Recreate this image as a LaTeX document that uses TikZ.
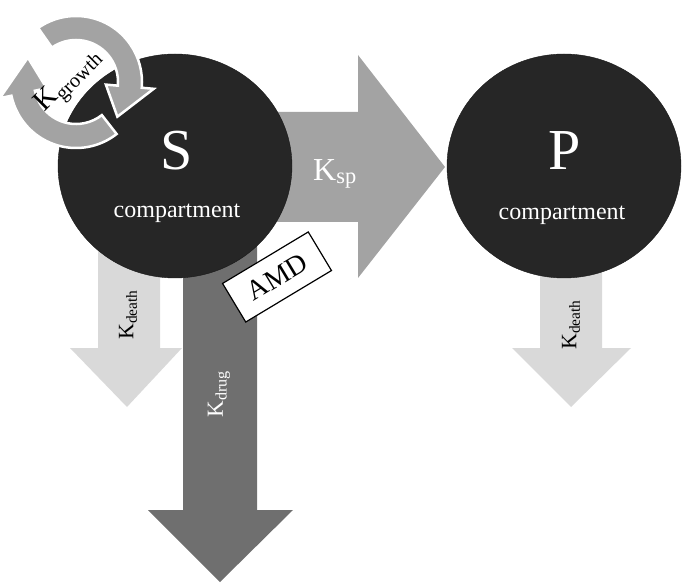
\documentclass[tikz,border=0pt]{standalone}
\usepackage{fontspec}
\setmainfont{Liberation Serif}
\usetikzlibrary{positioning}
\usetikzlibrary{shapes.geometric}

\definecolor{compfill}{HTML}{262626}
\definecolor{spgray}{HTML}{A3A3A3}
\definecolor{deathgray}{HTML}{D9D9D9}
\definecolor{druggray}{HTML}{6F6F6F}

\begin{document}
\begin{tikzpicture}[x=1pt,y=1pt,
  comp/.style={ellipse, fill=compfill, draw=black!90, minimum width=234pt, minimum height=224pt, inner sep=0pt},
  letter/.style={text=white, inner sep=0pt, font=\fontsize{58}{60}\selectfont},
  comptext/.style={text=white, inner sep=0pt, font=\fontsize{24}{26}\selectfont},
  rate/.style={inner sep=0pt},
  growth/.style={fill=spgray, draw=white, line width=2.5pt, line join=miter},
  amdbox/.style={draw=black, fill=white, line width=1.2pt, rotate=31, minimum width=100pt, minimum height=45pt, inner sep=0pt, font=\fontsize{28}{30}\selectfont}]
  \useasboundingbox (0,0) rectangle (685,587);

  % flows
  \fill[spgray] (260,365) -- (358,365) -- (358,309) -- (445,420) -- (358,532) -- (358,475) -- (260,475) -- cycle;
  \fill[deathgray] (98,360) -- (98,239) -- (70,239) -- (127,180) -- (182,239) -- (160,239) -- (160,360) -- cycle;
  \fill[deathgray] (540,360) -- (540,239) -- (512,239) -- (571,180) -- (631,239) -- (602,239) -- (602,360) -- cycle;
  \fill[druggray] (183,390) -- (183,77) -- (148,77) -- (220,5) -- (293,77) -- (257,77) -- (257,390) -- cycle;

  % compartments
  \node[comp] (S) at (175,421) {};
  \node[comp] (P) at (564,421) {};
  \node[letter] (Sname) at (177,436) {S};
  \node[comptext] (Stext) at (177,374) {compartment};
  \node[letter] (Pname) at (565,436) {P};
  \node[comptext] (Ptext) at (562,372) {compartment};

  % growth cycle
  \begin{scope}[shift={(76,505)}]
    \filldraw[growth] (125:66) arc[start angle=125, end angle=-5, radius=66] -- (-5:78) -- (-40:54) -- (-5:30) -- (-5:42) arc[start angle=-5, end angle=125, radius=42] -- cycle;
    \filldraw[growth] (-52:66) arc[start angle=-52, end angle=-168, radius=66] -- (-168:78) -- (-207:54) -- (-168:30) -- (-168:42) arc[start angle=-168, end angle=-52, radius=42] -- cycle;
  \end{scope}
  \node[rate, rotate=45, font=\fontsize{29}{31}\selectfont] (kgrowth) at (69,506) {$\mathrm{K}_{\mathrm{growth}}$};

  % rate labels
  \node[rate, text=white, font=\fontsize{32}{34}\selectfont] (ksp) at (335,413) {$\mathrm{K}_{\mathrm{sp}}$};
  \node[rate, rotate=90, font=\fontsize{22}{24}\selectfont] (kdeathS) at (128,272) {$\mathrm{K}_{\mathrm{death}}$};
  \node[rate, rotate=90, font=\fontsize{22}{24}\selectfont] (kdeathP) at (571,262) {$\mathrm{K}_{\mathrm{death}}$};
  \node[rate, rotate=90, text=white, font=\fontsize{23}{25}\selectfont] (kdrug) at (219,193) {$\mathrm{K}_{\mathrm{drug}}$};

  \node[amdbox] (amd) at (277,310) {AMD};
\end{tikzpicture}
\end{document}
